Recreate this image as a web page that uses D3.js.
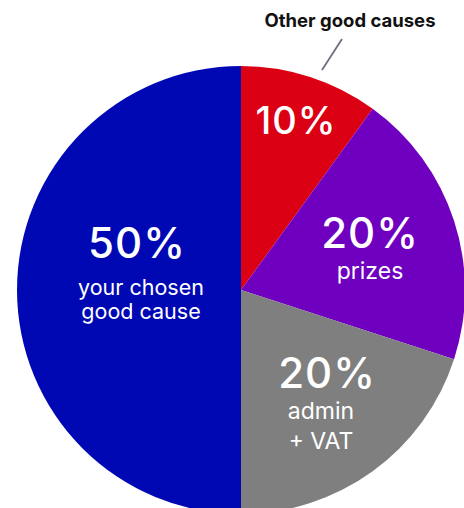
<!DOCTYPE html>
<html><head><meta charset="utf-8">
<script src="https://cdn.jsdelivr.net/npm/d3@7"></script>
<style>body{margin:0;background:#fff}svg{display:block}</style>
</head><body>
<script>
const categories = ["Other good causes", "prizes", "admin + VAT", "your chosen good cause"];
const values = [10, 20, 20, 50];
const colors = ["#dc0014", "#7000bf", "#7f7f7f", "#0008b4"];
const pctLabels = ["10%", "20%", "20%", "50%"];
const subLabels = [[], ["prizes"], ["admin", "+ VAT"], ["your chosen", "good cause"]];

const W = 464, H = 508, cx = 241, cy = 290, R = 224;
const svg = d3.select("body").append("svg").attr("width", W).attr("height", H);
const g = svg.append("g").attr("transform", `translate(${cx},${cy})`);
const pie = d3.pie().sort(null).value(d => d)(values);
const arc = d3.arc().innerRadius(0).outerRadius(R);
g.selectAll("path").data(pie).join("path").attr("d", arc).attr("fill", (d, i) => colors[i]);

const font = "Inter, 'DejaVu Sans', sans-serif";
// label anchor (baseline of percentage) relative to pie centre, per slice
const labelPos = [[55, -156], [129, -42], [86, 98], [-104, -32]];
const pctSize = [38, 42, 42, 42];
const subSize = [0, 23, 23, 21.5];
const subStart = [0, 31, 31, 37];
const subGap = [0, 24, 30, 24];
const subDx = [0, 0, -6, 4];
pie.forEach((d, i) => {
  const t = g.append("g").attr("transform", `translate(${labelPos[i][0]},${labelPos[i][1]})`);
  t.append("text").attr("text-anchor", "middle").attr("font-family", font)
    .attr("font-weight", 500).attr("font-size", pctSize[i]).attr("letter-spacing", 1)
    .attr("fill", "#fff").text(pctLabels[i]);
  subLabels[i].forEach((s, j) => {
    t.append("text").attr("text-anchor", "middle").attr("font-family", font)
      .attr("font-size", subSize[i]).attr("fill", "#fff").attr("x", subDx[i])
      .attr("y", subStart[i] + j * subGap[i]).text(s);
  });
});

// leader for Other good causes
svg.append("line").attr("x1", 342).attr("y1", 39).attr("x2", 322).attr("y2", 70)
  .attr("stroke", "#6b7080").attr("stroke-width", 1.8);
svg.append("text").attr("x", 350).attr("y", 27).attr("text-anchor", "middle")
  .attr("font-family", font).attr("font-weight", 700).attr("font-size", 18.5).attr("fill", "#111")
  .text(categories[0]);
</script>
</body></html>
